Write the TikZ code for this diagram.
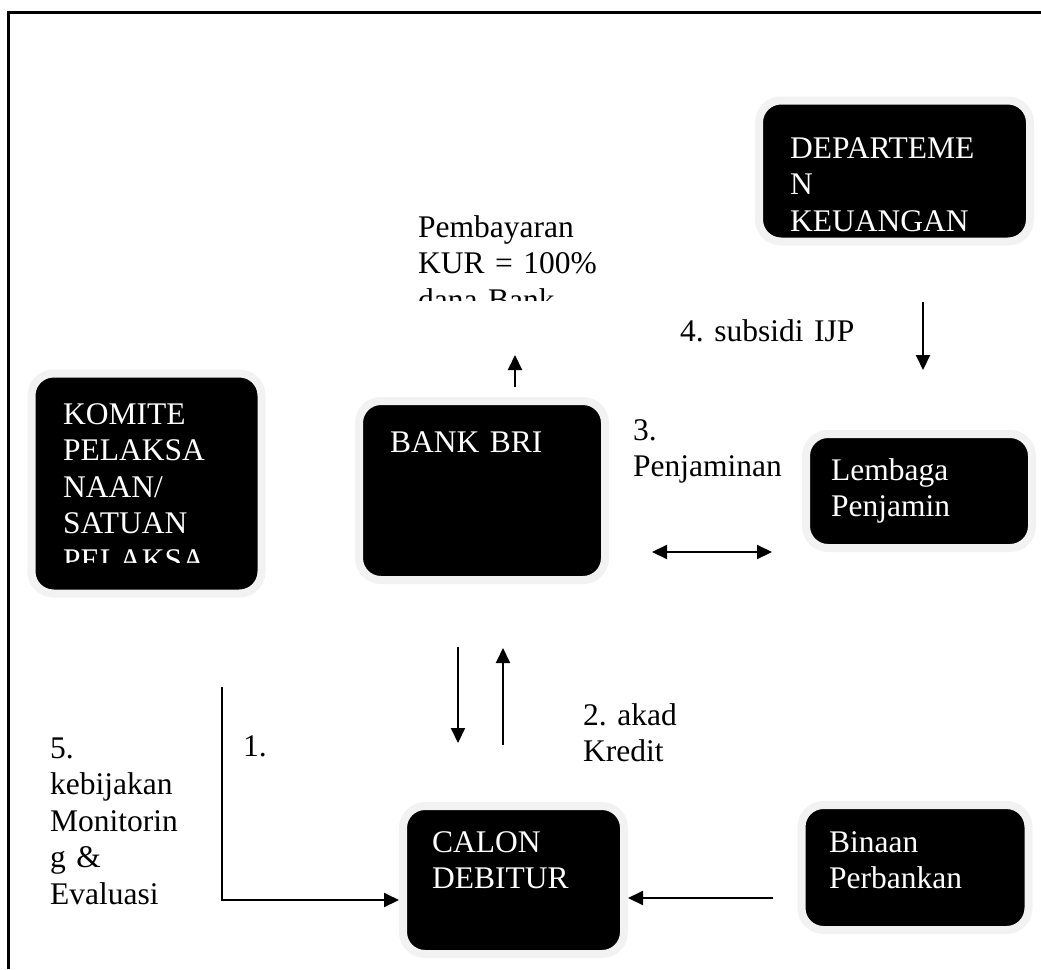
\documentclass[tikz,border=0pt]{standalone}
\usepackage{fontspec}
\setmainfont{Liberation Serif}
\frenchspacing
\usepackage{tikz}
\usetikzlibrary{arrows.meta, shadows}
\tikzset{
  >={Triangle[length=15pt, width=14pt]},
  x=1pt, y=-1pt,
  box/.style={rectangle, rounded corners=22pt, fill=black, draw=black!5, line width=8pt,
    general shadow={fill=black!30, shadow xshift=2pt, shadow yshift=-3pt}},
  boxtext/.style={text=white, align=left, anchor=base west, inner sep=0pt, text width=300pt,
    font=\fontsize{31.5}{36.5}\selectfont},
  note/.style={boxtext, text=black},
  link/.style={line width=2pt},
}

\begin{document}
\begin{tikzpicture}
		\useasboundingbox (0,0) rectangle (1041,969);
		\draw[line width=3pt] (8,969) -- (8,12) -- (1041,12);

		% boxes
		\node[box, minimum width=230, minimum height=220] (komite) at (146.5,483.5) {};
		\node[box, minimum width=246, minimum height=179] (bank) at (482,490.5) {};
		\node[box, minimum width=271, minimum height=141] (dep) at (894.5,171) {};
		\node[box, minimum width=226, minimum height=114] (lembaga) at (919,491) {};
		\node[box, minimum width=221, minimum height=148] (calon) at (513.5,880) {};
		\node[box, minimum width=227, minimum height=125] (binaan) at (915,867.5) {};

		% box texts
		\begin{scope}
			\clip (35,380) rectangle (258,562);
			\node[boxtext] (komitetext) at (63,424) {KOMITE\\PELAKSA\\NAAN/\\SATUAN\\PELAKSA};
		\end{scope}
		\node[boxtext] (banktext) at (390,452) {BANK BRI};
		\node[boxtext] (deptext) at (790,158) {DEPARTEME\\N\\KEUANGAN};
		\node[boxtext] (lembagatext) at (831,480) {Lembaga\\Penjamin};
		\node[boxtext] (calontext) at (432,852) {CALON\\DEBITUR};
		\node[boxtext] (binaantext) at (829,852) {Binaan\\Perbankan};

		% labels
		\begin{scope}
			\clip (400,200) rectangle (620,300);
			\node[note] (bayar) at (418,237) {Pembayaran\\KUR = 100\%\\dana Bank};
		\end{scope}
		\node[note] (subsidi) at (680,341) {4. subsidi IJP};
		\node[note] (jamin) at (633,440) {3.\\Penjaminan};
		\node[note] (akad) at (583,725) {2. akad\\Kredit};
		\node[note] (satu) at (243,756) {1.};
		\node[note] (monev) at (50,758) {5.\\kebijakan\\Monitorin\\g \&\\Evaluasi};

		% arrows
		\coordinate (bayar1) at (515,387);
		\coordinate (bayar2) at (515,355);
		\coordinate (ijp1) at (923,302);
		\coordinate (ijp2) at (923,370);
		\coordinate (jamin1) at (652,552);
		\coordinate (jamin2) at (772,552);
		\coordinate (turun1) at (458,647);
		\coordinate (turun2) at (458,743);
		\coordinate (naik1) at (503,745);
		\coordinate (naik2) at (503,648);
		\coordinate (monev1) at (222,687);
		\coordinate (monev2) at (222,900);
		\coordinate (binaan1) at (773,898);

		\draw[link, ->] (bayar1) -- (bayar2);
		\draw[link, ->] (ijp1) -- (ijp2);
		\draw[link, <->] (jamin1) -- (jamin2);
		\draw[link, ->] (turun1) -- (turun2);
		\draw[link, ->] (naik1) -- (naik2);
		\draw[link, ->] (monev1) -- (monev2) -- (calon.west |- monev2);
		\draw[link, ->] (binaan1) -- (calon.east |- binaan1);

	\end{tikzpicture}
\end{document}
